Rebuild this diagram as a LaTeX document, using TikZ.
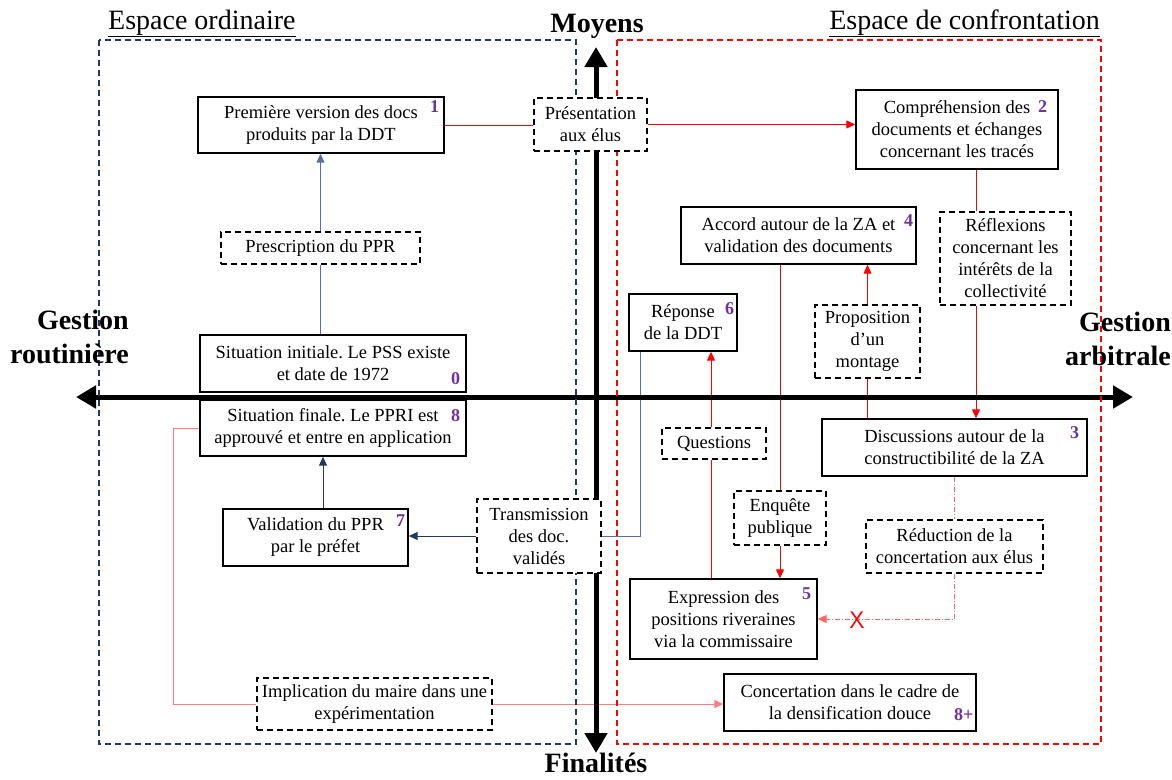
\documentclass[tikz,border=0pt]{standalone}
\usepackage{fontspec}
\setmainfont{Liberation Serif}
\usepackage{xcolor}
\usetikzlibrary{arrows.meta}
\usetikzlibrary{backgrounds}
\frenchspacing

\definecolor{navyline}{RGB}{31,56,100}
\definecolor{slateline}{RGB}{84,112,170}
\definecolor{pinkline}{RGB}{255,124,128}
\definecolor{dotline}{RGB}{255,102,102}
\definecolor{numpurple}{RGB}{112,48,160}

\newcommand{\boxfont}{\fontsize{18.5}{22}\selectfont}
\newcommand{\axisfont}{\fontsize{28}{34}\selectfont\bfseries}

\begin{document}
\begin{tikzpicture} [
    x=1pt, y=-1pt,
    block/.style  = { rectangle, draw=black, line width=1.4pt, fill=white,
                      align=center, inner sep=2pt, font=\boxfont },
    dblock/.style = { block, dash pattern=on 6pt off 4pt },
    num/.style    = { text=numpurple, inner sep=0pt,
                      font=\fontsize{18}{18}\selectfont\bfseries },
    line/.style   = { draw, line width=1pt },
    arr/.style    = { line, -{Triangle[length=9pt,width=8pt]} },
    axis/.style   = { draw, line width=5pt,
                      {Triangle[length=20pt,width=22pt]}-{Triangle[length=20pt,width=22pt]} },
  ]
  \useasboundingbox (0,0) rectangle (1172,779);

  % titles of the axes and of the two spaces
  \node [font=\axisfont, anchor=base] (moyens) at (597,32) {Moyens};
  \node [font=\axisfont, anchor=base] (finalites) at (596,772) {Finalités};
  \node [font=\axisfont, align=right, anchor=east, inner sep=0pt]
        (routine) at (129,337) {Gestion\\routinière};
  \node [font=\axisfont, align=right, anchor=east, inner sep=0pt]
        (arbitre) at (1171,339) {Gestion\\arbitrale};
  \node [font=\fontsize{28}{34}\selectfont, anchor=base west, inner sep=0pt]
        (ordinaire) at (108,29) {\underline{Espace ordinaire}};
  \node [font=\fontsize{28}{34}\selectfont, anchor=base east, inner sep=0pt]
        (confront) at (1100,29) {\underline{Espace de confrontation}};

  % steps
  \node [block, minimum width=246pt, minimum height=56pt] (p1) at (321,125)
        {Première version des docs\\produits par la DDT};
  \node [dblock, minimum width=113pt, minimum height=53pt] (pres) at (590.5,124.5)
        {Présentation\\aux élus};
  \node [block, minimum width=202pt, minimum height=79pt] (p2) at (957,129.5)
        {Compréhension des\\documents et échanges\\concernant les tracés};
  \node [dblock, minimum width=131pt, minimum height=93pt] (refl) at (1005.5,258.5)
        {Réflexions\\concernant les\\intérêts de la\\collectivité};
  \node [block, minimum width=235pt, minimum height=57pt] (acc) at (798.5,235.5)
        {Accord autour de la ZA et\\validation des documents};
  \node [dblock, minimum width=105pt, minimum height=73pt] (prop) at (867.5,341.5)
        {Proposition\\d’un\\montage};
  \node [block, minimum width=108pt, minimum height=57pt] (rep) at (683,322.5)
        {Réponse\\de la DDT};
  \node [block, minimum width=265pt, minimum height=57pt] (p3) at (954.5,447.5)
        {Discussions autour de la\\constructibilité de la ZA};
  \node [dblock, minimum width=104pt, minimum height=31pt] (ques) at (714,443.5)
        {Questions};
  \node [dblock, minimum width=92pt, minimum height=54pt] (enq) at (780,518)
        {Enquête\\publique};
  \node [dblock, minimum width=177pt, minimum height=53pt] (reduc) at (954.5,546.5)
        {Réduction de la\\concertation aux élus};
  \node [block, minimum width=187pt, minimum height=80pt] (p5) at (723.5,619)
        {Expression des\\positions riveraines\\via la commissaire};
  \node [block, minimum width=252pt, minimum height=57pt] (conc) at (850,702.5)
        {Concertation dans le cadre de\\la densification douce};
  \node [dblock, minimum width=235pt, minimum height=52pt] (impl) at (374.5,704)
        {Implication du maire dans une\\expérimentation};
  \node [dblock, minimum width=124pt, minimum height=74pt] (trans) at (539,536)
        {Transmission\\des doc.\\validés};
  \node [block, minimum width=185pt, minimum height=57pt] (val) at (315.5,537.5)
        {Validation du PPR\\par le préfet};
  \node [block, minimum width=266pt, minimum height=56pt] (p8) at (333,428)
        {Situation finale. Le PPRI est\\approuvé et entre en application};
  \node [block, minimum width=266pt, minimum height=57pt] (p0) at (333,363.5)
        {Situation initiale. Le PSS existe\\et date de 1972};
  \node [dblock, minimum width=199pt, minimum height=32pt] (presc) at (320.5,248)
        {Prescription du PPR};

  % step numbers
  \node [num] (n1)  at ([shift={(-10,10)}]p1.north east)   {1};
  \node [num] (n2)  at ([shift={(-16,17)}]p2.north east)   {2};
  \node [num] (n3)  at ([shift={(-13,14)}]p3.north east)   {3};
  \node [num] (n4)  at ([shift={(-8,14)}]acc.north east)   {4};
  \node [num] (n5)  at ([shift={(-11,15)}]p5.north east)   {5};
  \node [num] (n6)  at ([shift={(-8,15)}]rep.north east)   {6};
  \node [num] (n7)  at ([shift={(-8,12)}]val.north east)   {7};
  \node [num] (n8)  at ([shift={(-11,16)}]p8.north east)   {8};
  \node [num] (n0)  at ([shift={(-11,-14)}]p0.south east)  {0};
  \node [num] (n8p) at ([shift={(-13,-17)}]conc.south east) {8+};

  \node [text=red, inner sep=0pt, font=\fontsize{24}{24}\selectfont\sffamily]
        (croix) at (857,620) {X};

  \coordinate (c2) at (976,0);
  \coordinate (cq) at (711,0);
  \coordinate (cr) at (640,0);
  \coordinate (cv) at (323,0);
  \coordinate (cl) at (173,0);
  \coordinate (axW) at (76,397);
  \coordinate (axE) at (1133,397);
  \coordinate (axN) at (596,47);
  \coordinate (axS) at (596,753);

  \begin{scope} [on background layer]
    % connect the steps
    \path [line, red]      (p1.east)          --  (p1.east -| pres.west);
    \path [arr, red]       (pres.east)        --  (pres.east -| p2.west);
    \path [line, red]      (p2.south -| c2)   --  (refl.north -| c2);
    \path [arr, red]       (refl.south -| c2) --  (p3.north -| c2);
    \path [line, red]      (p3.north -| prop) --  (prop.south);
    \path [arr, red]       (prop.north)       --  (prop.north |- acc.south);
    \path [line, red]      (acc.south -| enq) --  (enq.north);
    \path [arr, red]       (enq.south)        --  (enq.south |- p5.north);
    \path [line, red]      (p5.north -| cq)   --  (ques.south -| cq);
    \path [arr, red]       (ques.north -| cq) --  (rep.south -| cq);
    \path [line, slateline] (rep.south -| cr) |-  (trans.east);
    \path [arr, navyline]  (trans.west)       --  (trans.west -| val.east);
    \path [arr, navyline]  (val.north -| cv)  --  (p8.south -| cv);
    \path [line, slateline] (p0.north -| presc) -- (presc.south);
    \path [arr, slateline] (presc.north)      --  (presc.north |- p1.south);
    \path [line, pinkline] (p8.west) -- (p8.west -| cl) |- (impl.west);
    \path [arr, pinkline]  (impl.east)        --  (impl.east -| conc.west);
    \path [line, dotline, dash pattern=on 5pt off 2pt on 1pt off 2pt]
          (p3.south) -- (reduc.north);
    \path [arr, dotline, dash pattern=on 5pt off 2pt on 1pt off 2pt]
          (reduc.south) |- (p5.east);

    % axes
    \path [axis] (axW) -- (axE);
    \path [axis] (axN) -- (axS);

    % the two spaces
    \draw [navyline, line width=1.3pt, dash pattern=on 6pt off 4pt]
          (99,40) rectangle (576,744);
    \draw [red, line width=1.3pt, dash pattern=on 6pt off 4pt]
          (617,40) rectangle (1101,744);
  \end{scope}
\end{tikzpicture}
\end{document}
